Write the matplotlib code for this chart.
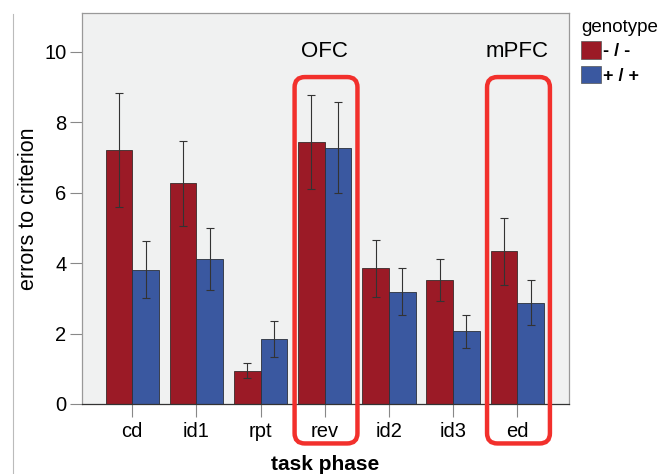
import matplotlib.pyplot as plt
import numpy as np
from matplotlib.patches import FancyBboxPatch, Patch
from matplotlib.lines import Line2D

# data
phases = ['cd', 'id1', 'rpt', 'rev', 'id2', 'id3', 'ed']
ko_mean = [7.2, 6.26, 0.95, 7.43, 3.85, 3.52, 4.33]
ko_err = [1.62, 1.2, 0.22, 1.34, 0.8, 0.6, 0.94]
wt_mean = [3.81, 4.12, 1.84, 7.28, 3.19, 2.07, 2.88]
wt_err = [0.81, 0.88, 0.52, 1.3, 0.67, 0.47, 0.65]
genotypes = ['- / -', '+ / +']
regions = [('OFC', 'rev'), ('mPFC', 'ed')]

red = '#9b1a26'
blue = '#3a58a0'
box_red = '#f2302c'

plt.rcParams['font.family'] = ['Liberation Sans', 'DejaVu Sans']

fig = plt.figure(figsize=(6.58, 4.74), dpi=100)
ax = fig.add_axes([0.124, 0.1477, 0.741, 0.825])
ax.set_facecolor('#f0f1f1')

x = np.arange(len(phases))
w = 0.415
ekw = dict(ecolor='#333333', elinewidth=0.8, capsize=3, capthick=0.8)
ax.bar(x - w / 2, ko_mean, w, yerr=ko_err, color=red, edgecolor='#3a2a2a',
       linewidth=0.6, error_kw=ekw, zorder=2)
ax.bar(x + w / 2, wt_mean, w, yerr=wt_err, color=blue, edgecolor='#2a2f3a',
       linewidth=0.6, error_kw=ekw, zorder=2)

ax.set_xlim(-0.79, 6.81)
ax.set_ylim(0, 11.1)
ax.set_yticks([0, 2, 4, 6, 8, 10])
ax.set_xticks(x)
ax.set_xticklabels(phases)
ax.tick_params(axis='both', length=9, width=0.8, color='#888888', labelsize=14.5, pad=2)
ax.tick_params(axis='x', pad=4)
for s in ax.spines.values():
    s.set_color('#999999')
    s.set_linewidth(0.9)
ax.spines['bottom'].set_color('#333333')

ax.set_ylabel('errors to criterion', fontsize=15.5, labelpad=4)
ax.set_xlabel('task phase', fontsize=15, fontweight='bold', labelpad=10)

# rounded highlight boxes around the two phases
xpx = ax.get_position().width * fig.get_figwidth() * fig.dpi / (6.81 + 0.79)
ypx = ax.get_position().height * fig.get_figheight() * fig.dpi / 11.1
for name, ph in regions:
    i = phases.index(ph)
    ax.add_patch(FancyBboxPatch((i - 0.47, -1.12), 0.98, 10.4,
                                boxstyle='round,pad=0,rounding_size=0.16',
                                mutation_aspect=xpx / ypx, fill=False,
                                edgecolor=box_red, linewidth=3.2,
                                clip_on=False, zorder=5))
    ax.text(i, 10.0, name, ha='center', va='center', fontsize=16, zorder=6)

# legend
handles = [Patch(facecolor=red, edgecolor='#555555', linewidth=0.5),
           Patch(facecolor=blue, edgecolor='#555555', linewidth=0.5)]
leg = fig.legend(handles, genotypes, title='genotype', loc='upper left',
                 bbox_to_anchor=(0.872, 0.975), frameon=False, fontsize=13,
                 title_fontsize=13.5, handlelength=1.1, handleheight=1.1,
                 handletextpad=0.1, labelspacing=0.3, borderaxespad=0)
leg._legend_box.align = 'left'
for t in leg.get_texts():
    t.set_fontweight('bold')

# thin frame line at the left edge of the panel
fig.add_artist(Line2D([0.02, 0.02], [0.0, 0.97], transform=fig.transFigure,
                      color='#bbbbbb', linewidth=0.8))

fig.savefig('out.png', dpi=100)
